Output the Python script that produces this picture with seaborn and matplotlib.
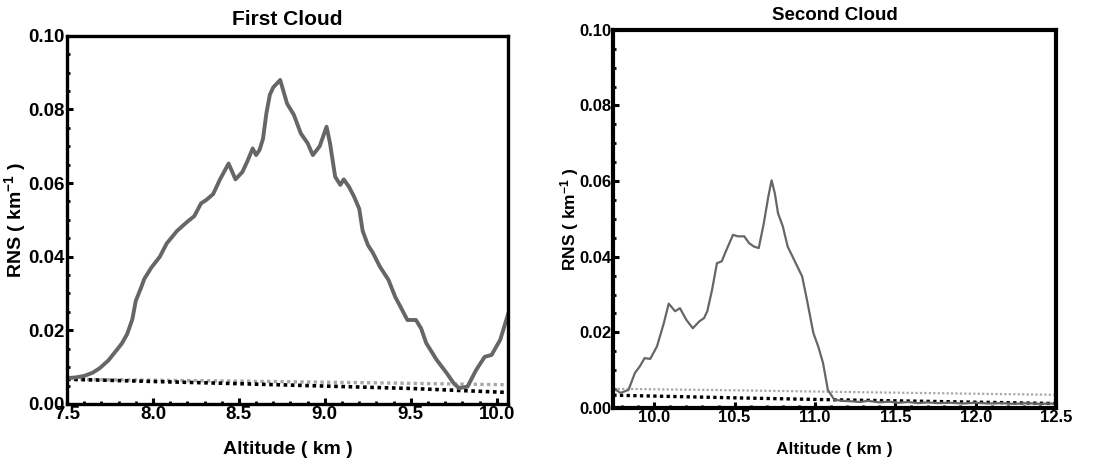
import numpy as np
import pandas as pd
import matplotlib
matplotlib.use("Agg")
import matplotlib.pyplot as plt
import seaborn as sns
from matplotlib.ticker import MultipleLocator, FormatStrFormatter

# first cloud, solid RNS profile
alt1 = [7.50, 7.55, 7.60, 7.65, 7.69, 7.74, 7.79, 7.82, 7.85, 7.88, 7.90, 7.93,
        7.95, 7.99, 8.04, 8.08, 8.14, 8.20, 8.24, 8.28, 8.31, 8.35, 8.39, 8.44,
        8.48, 8.52, 8.55, 8.58, 8.60, 8.62, 8.64, 8.66, 8.68, 8.70, 8.74, 8.78,
        8.82, 8.86, 8.90, 8.93, 8.97, 9.01, 9.03, 9.06, 9.09, 9.11, 9.14, 9.17,
        9.20, 9.22, 9.25, 9.28, 9.32, 9.37, 9.41, 9.44, 9.48, 9.53, 9.56, 9.59,
        9.65, 9.71, 9.75, 9.78, 9.83, 9.88, 9.93, 9.97, 10.02, 10.07]
rns1 = [0.0070, 0.0072, 0.0076, 0.0085, 0.0097, 0.0118, 0.0147, 0.0165, 0.0190,
        0.0230, 0.0280, 0.0315, 0.0340, 0.0370, 0.0400, 0.0436, 0.0470, 0.0495,
        0.0510, 0.0545, 0.0554, 0.0570, 0.0610, 0.0653, 0.0610, 0.0630, 0.0660,
        0.0694, 0.0676, 0.0690, 0.0720, 0.0790, 0.0840, 0.0860, 0.0880, 0.0816,
        0.0785, 0.0735, 0.0708, 0.0676, 0.0700, 0.0753, 0.0708, 0.0617, 0.0595,
        0.0610, 0.0590, 0.0563, 0.0530, 0.0470, 0.0432, 0.0410, 0.0373, 0.0337,
        0.0290, 0.0264, 0.0228, 0.0228, 0.0205, 0.0165, 0.0120, 0.0083, 0.0056,
        0.0043, 0.0047, 0.0092, 0.0128, 0.0133, 0.0174, 0.0250]
# first cloud, dotted thresholds
thr_alt1 = [7.50, 8.50, 9.50, 10.07]
thr_black1 = [0.0067, 0.0055, 0.0042, 0.0031]
thr_gray1 = [0.0067, 0.0062, 0.0056, 0.0052]

# second cloud, solid RNS profile
alt2 = [9.745, 9.79, 9.84, 9.88, 9.91, 9.94, 9.975, 10.017, 10.06, 10.09, 10.13,
        10.16, 10.20, 10.24, 10.28, 10.31, 10.33, 10.36, 10.39, 10.42, 10.45,
        10.49, 10.52, 10.56, 10.59, 10.62, 10.65, 10.68, 10.71, 10.73, 10.75,
        10.77, 10.80, 10.83, 10.87, 10.92, 10.95, 10.99, 11.02, 11.05, 11.08,
        11.12, 11.17, 11.22, 11.28, 11.33, 11.40, 11.46, 11.52, 11.58, 11.64,
        11.70, 11.76, 11.84, 11.92, 12.00, 12.08, 12.16, 12.24, 12.32, 12.40,
        12.46, 12.50]
rns2 = [0.0053, 0.0040, 0.0048, 0.0093, 0.0110, 0.0132, 0.0130, 0.0163, 0.0225,
        0.0276, 0.0256, 0.0264, 0.0233, 0.0211, 0.0229, 0.0238, 0.0256, 0.0313,
        0.0383, 0.0388, 0.0419, 0.0458, 0.0454, 0.0454, 0.0436, 0.0427, 0.0423,
        0.0485, 0.0560, 0.0602, 0.0568, 0.0515, 0.0480, 0.0427, 0.0392, 0.0348,
        0.0286, 0.0198, 0.0163, 0.0119, 0.0048, 0.0022, 0.0019, 0.0018, 0.0016,
        0.0019, 0.0015, 0.0017, 0.0014, 0.0016, 0.0013, 0.0015, 0.0013, 0.0014,
        0.0012, 0.0014, 0.0012, 0.0013, 0.0011, 0.0013, 0.0011, 0.0012, 0.0011]
thr_alt2 = [9.745, 10.50, 11.10, 11.80, 12.50]
thr_black2 = [0.0034, 0.0027, 0.0022, 0.0017, 0.0012]
thr_gray2 = [0.0051, 0.0047, 0.0043, 0.0039, 0.0035]

sns.set_style("ticks")
plt.rcParams['font.family'] = ['Liberation Sans', 'DejaVu Sans']
plt.rcParams['font.weight'] = 'bold'
plt.rcParams['mathtext.default'] = 'regular'

fig = plt.figure(figsize=(10.99, 4.59), dpi=100)
ax1 = fig.add_axes([0.061, 0.120, 0.401, 0.802])
ax2 = fig.add_axes([0.558, 0.111, 0.403, 0.824])


def style_axis(ax, xlim, tick_size, lab_size, title, title_size, lw_spine,
               ylab_x, xlab_y, title_pad):
    ax.set_xlim(*xlim)
    ax.set_ylim(0, 0.10)
    ax.xaxis.set_major_locator(MultipleLocator(0.5))
    ax.xaxis.set_minor_locator(MultipleLocator(0.1))
    ax.yaxis.set_major_locator(MultipleLocator(0.02))
    ax.yaxis.set_minor_locator(MultipleLocator(0.005))
    ax.xaxis.set_major_formatter(FormatStrFormatter('%.1f'))
    ax.yaxis.set_major_formatter(FormatStrFormatter('%.2f'))
    ax.tick_params(which='both', direction='in', top=False, right=False,
                   labelsize=tick_size, pad=1.5, color='black', labelcolor='black')
    ax.tick_params(which='major', length=4, width=2.2)
    ax.tick_params(which='minor', length=2.5, width=2)
    for sp in ax.spines.values():
        sp.set_linewidth(lw_spine)
        sp.set_color('black')
        sp.set_visible(True)
    for lbl in ax.get_xticklabels() + ax.get_yticklabels():
        lbl.set_fontweight('bold')
    ax.set_xlabel('Altitude ( km )', fontsize=lab_size, fontweight='bold', color='black')
    ax.set_ylabel('RNS ( km$^{-1}$ )', fontsize=lab_size, fontweight='bold', color='black')
    ax.yaxis.set_label_coords(ylab_x, 0.5)
    ax.xaxis.set_label_coords(0.5, xlab_y)
    ax.set_title(title, fontsize=title_size, fontweight='bold', pad=title_pad, color='black')


df1 = pd.DataFrame({'alt': alt1, 'rns': rns1})
thr1 = pd.DataFrame({'alt': thr_alt1, 'black': thr_black1, 'gray': thr_gray1})
sns.lineplot(data=thr1, x='alt', y='gray', ax=ax1, color='#a8a8a8', lw=2.4,
             linestyle=(0, (1, 1)))
sns.lineplot(data=thr1, x='alt', y='black', ax=ax1, color='black', lw=2.6,
             linestyle=(0, (1, 1)))
sns.lineplot(data=df1, x='alt', y='rns', ax=ax1, color='#666666', lw=2.8)
style_axis(ax1, (7.5, 10.064), 13.5, 14, 'First Cloud', 15, 2.4,
           -0.089, -0.1, 8)

df2 = pd.DataFrame({'alt': alt2, 'rns': rns2})
thr2 = pd.DataFrame({'alt': thr_alt2, 'black': thr_black2, 'gray': thr_gray2})
sns.lineplot(data=thr2, x='alt', y='gray', ax=ax2, color='#a8a8a8', lw=1.6,
             linestyle=(0, (1, 1)))
sns.lineplot(data=thr2, x='alt', y='black', ax=ax2, color='black', lw=2.4,
             linestyle=(0, (1, 1)))
sns.lineplot(data=df2, x='alt', y='rns', ax=ax2, color='#666666', lw=1.6)
style_axis(ax2, (9.745, 12.5), 12, 12.5, 'Second Cloud', 13.5, 3,
           -0.073, -0.09, 7)

fig.savefig('out.png', dpi=100)
